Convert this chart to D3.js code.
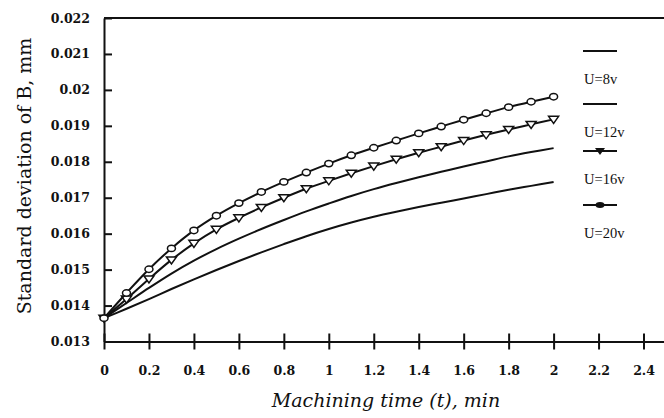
<!DOCTYPE html>
<html>
<head>
<meta charset="UTF-8">
<style>
  body { margin: 0; background: #fff; }
  svg { display: block; }
  .tick text { font-family: 'DejaVu Serif', serif; font-weight: bold; font-size: 12.5px; fill: #111; }
</style>
</head>
<body>
<svg id="chart" width="664" height="418"></svg>
<script src="https://d3js.org/d3.v7.min.js"></script>
<script>
// machining time (min)
const times = [0, 0.1, 0.2, 0.3, 0.4, 0.5, 0.6, 0.7, 0.8, 0.9, 1.0,
               1.1, 1.2, 1.3, 1.4, 1.5, 1.6, 1.7, 1.8, 1.9, 2.0];
// standard deviation of B (mm)
const u8 = [0.01365, 0.01391, 0.01418, 0.01446, 0.01473, 0.01499, 0.01524, 0.01548, 0.01571, 0.01593, 0.01613,
            0.01631, 0.01647, 0.01661, 0.01674, 0.01686, 0.01698, 0.0171, 0.01722, 0.01733, 0.01744];
const u12 = [0.01365, 0.01407, 0.01449, 0.01489, 0.01525, 0.01557, 0.01586, 0.01613, 0.01638, 0.01662, 0.01684,
             0.01705, 0.01724, 0.01741, 0.01757, 0.01772, 0.01787, 0.01801, 0.01815, 0.01827, 0.01838];
const u16 = [0.01365, 0.01418, 0.01474, 0.01527, 0.01573, 0.01612, 0.01644, 0.01673, 0.017, 0.01725, 0.01747,
             0.01768, 0.01788, 0.01807, 0.01825, 0.01842, 0.01859, 0.01875, 0.0189, 0.01904, 0.01918];
const u20 = [0.01365, 0.01435, 0.01501, 0.01559, 0.01609, 0.0165, 0.01685, 0.01716, 0.01744, 0.0177, 0.01795,
             0.01818, 0.01839, 0.01859, 0.01879, 0.01898, 0.01917, 0.01935, 0.01952, 0.01967, 0.01981];
const seriesNames = ["U=8v", "U=12v", "U=16v", "U=20v"];
const xTicks = [0, 0.2, 0.4, 0.6, 0.8, 1, 1.2, 1.4, 1.6, 1.8, 2, 2.2, 2.4];
const yTicks = [0.013, 0.014, 0.015, 0.016, 0.017, 0.018, 0.019, 0.02, 0.021, 0.022];

const series = [
  { name: seriesNames[0], values: u8, marker: null },
  { name: seriesNames[1], values: u12, marker: null },
  { name: seriesNames[2], values: u16, marker: "tri" },
  { name: seriesNames[3], values: u20, marker: "circle" }
];

const svg = d3.select("#chart");
const x = d3.scaleLinear().domain([0, 2.5]).range([104, 666]);
const y = d3.scaleLinear().domain([0.013, 0.022]).range([341.5, 18]);
const ink = "#111";

// axes
const xAxis = svg.append("g")
    .attr("class", "x-axis")
    .attr("transform", "translate(0," + y(0.013) + ")")
    .call(d3.axisBottom(x).tickValues(xTicks).tickFormat(d3.format("")).tickSizeInner(8).tickSizeOuter(0).tickPadding(17));
xAxis.select(".domain").attr("stroke", ink).attr("stroke-width", 2);
xAxis.selectAll(".tick line").attr("stroke", ink).attr("stroke-width", 2).attr("y1", -8);

const yAxis = svg.append("g")
    .attr("class", "y-axis")
    .attr("transform", "translate(" + x(0) + ",0)")
    .call(d3.axisLeft(y).tickValues(yTicks).tickFormat(d3.format("")).tickSizeInner(8).tickSizeOuter(0).tickPadding(6));
yAxis.select(".domain").attr("stroke", ink).attr("stroke-width", 2);
yAxis.selectAll(".tick line").attr("stroke", ink).attr("stroke-width", 2).attr("x2", 8);

// top frame line
svg.append("line")
    .attr("x1", x(0)).attr("x2", x(2.5))
    .attr("y1", y(0.022)).attr("y2", y(0.022))
    .attr("stroke", ink).attr("stroke-width", 2);

// curves
const line = d3.line()
    .x((d, i) => x(times[i]))
    .y(d => y(d))
    .curve(d3.curveCatmullRom);

const triPath = "M-5,-3L5,-3L0,4Z";

series.forEach(s => {
  svg.append("path")
      .attr("d", line(s.values))
      .attr("fill", "none")
      .attr("stroke", ink)
      .attr("stroke-width", 2);
  if (s.marker === "circle") {
    svg.append("g").selectAll("ellipse")
        .data(s.values)
        .join("ellipse")
        .attr("cx", (d, i) => x(times[i]))
        .attr("cy", d => y(d))
        .attr("rx", 4).attr("ry", 3.2)
        .attr("fill", "#fff")
        .attr("stroke", ink)
        .attr("stroke-width", 1.5);
  } else if (s.marker === "tri") {
    svg.append("g").selectAll("path")
        .data(s.values)
        .join("path")
        .attr("transform", (d, i) => "translate(" + x(times[i]) + "," + y(d) + ")")
        .attr("d", triPath)
        .attr("fill", "#fff")
        .attr("stroke", ink)
        .attr("stroke-width", 1.5);
  }
});

// legend
const legendRows = [51, 104, 151, 205];
const legend = svg.append("g").attr("class", "legend");
series.forEach((s, i) => {
  const ly = legendRows[i];
  legend.append("line")
      .attr("x1", 583).attr("x2", 617)
      .attr("y1", ly).attr("y2", ly)
      .attr("stroke", ink).attr("stroke-width", 1.8);
  if (s.marker === "circle") {
    legend.append("ellipse").attr("cx", 600).attr("cy", ly).attr("rx", 4.5).attr("ry", 3).attr("fill", ink);
  } else if (s.marker === "tri") {
    legend.append("path").attr("transform", "translate(600," + ly + ")").attr("d", triPath).attr("fill", ink);
  }
  legend.append("text")
      .attr("x", 584).attr("y", ly + 33)
      .attr("font-family", "'Liberation Serif', serif")
      .attr("font-size", 14.5)
      .attr("fill", ink)
      .text(s.name);
});

// axis titles
svg.append("text")
    .attr("x", 386).attr("y", 407)
    .attr("text-anchor", "middle")
    .attr("font-family", "'DejaVu Serif', serif")
    .attr("font-style", "italic")
    .attr("font-size", 19)
    .attr("fill", ink)
    .text("Machining time (t), min");

svg.append("text")
    .attr("transform", "translate(31,176) rotate(-90)")
    .attr("text-anchor", "middle")
    .attr("font-family", "'DejaVu Serif', serif")
    .attr("font-size", 19)
    .attr("fill", ink)
    .text("Standard deviation of B, mm");
</script>
</body>
</html>
